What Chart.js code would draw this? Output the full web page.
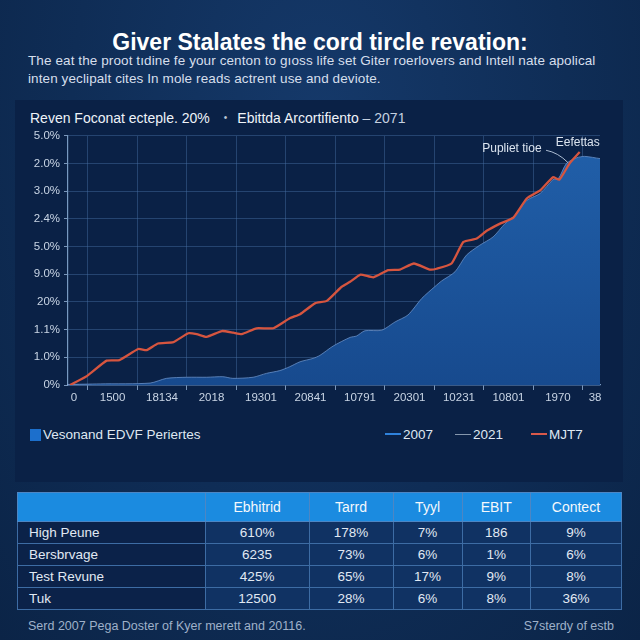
<!DOCTYPE html>
<html><head><meta charset="utf-8">
<script src="https://cdn.jsdelivr.net/npm/chart.js@4.4.0/dist/chart.umd.min.js"></script>
<style>
html,body{margin:0;padding:0;width:640px;height:640px;overflow:hidden;}
body{background:radial-gradient(ellipse at 50% 20%,#15396a 0%,#0f2d56 55%,#0b2447 100%);font-family:"Liberation Sans",Arial,sans-serif;position:relative;}
.abs{position:absolute;}
#title{left:0;width:640px;top:28px;text-align:center;color:#fff;font-weight:bold;font-size:23px;line-height:28px;}
#sub{left:28px;top:52px;width:610px;color:#d6dfec;font-size:13.5px;line-height:18px;white-space:nowrap;letter-spacing:0.1px;}
#panel{left:15px;top:100px;width:608px;height:382px;background:#0a2146;}
#hdr{left:30px;top:110px;color:#eef3f9;font-size:14px;white-space:nowrap;}
#hdr .dot{color:#b9c6d6;margin:0 10px 0 14px;font-size:10px;position:relative;top:-2px;}
#hdr .lt{color:#c5d1e0;}
#chartBox{left:0;top:125px;width:640px;height:290px;}
.leg{top:427px;color:#dfe7f1;font-size:13.5px;white-space:nowrap;line-height:16px;}
.sq{display:inline-block;width:11px;height:12px;background:#1c6fcc;vertical-align:-2px;margin-right:2px;}
.ln{display:inline-block;width:16px;height:2px;vertical-align:4px;margin-right:2px;}
table{position:absolute;left:17px;top:492px;width:605px;border-collapse:collapse;font-size:13.5px;color:#e1e9f3;}
th{background:#1b8be0;color:#f4f8fc;font-weight:normal;font-size:14px;height:28px;padding:0;border:1px solid #4d86c4;text-align:center;}
td{height:21px;padding:0;border:1px solid #3d6ca4;text-align:center;background:#103263;}
td.nm{text-align:left;padding-left:11px;background:#0b2249;}
.foot{top:619px;color:#9fb1c9;font-size:12.5px;white-space:nowrap;}
</style>
</head><body>
<div id="panel" class="abs"></div>
<div id="title" class="abs"></div>
<div id="sub" class="abs"></div>
<div id="hdr" class="abs"></div>
<div id="chartBox" class="abs"><canvas id="c" width="640" height="290"></canvas></div>
<div id="leg0" class="abs leg" style="left:30px"></div>
<div id="leg1" class="abs leg" style="left:385px"></div>
<div id="leg2" class="abs leg" style="left:455px"></div>
<div id="leg3" class="abs leg" style="left:531px"></div>
<table id="tbl"></table>
<div id="footL" class="abs foot" style="left:28px"></div>
<div id="footR" class="abs foot" style="right:26px"></div>
<script>
// ---- texts ----
const titleText = 'Giver Stalates the cord tircle revation:';
const subLines = ['The eat the proot tıdine fe your centon to gıoss life set Giter roerlovers and Intell nate apolical',
                  'inten yeclipalt cites In mole reads actrent use and deviote.'];
const headerLeft = 'Reven Foconat ecteple. 20%';
const headerRight = 'Ebittda Arcortifiento';
const headerRightTail = '– 2071';
const legendNames = ['Vesonand EDVF Periertes', '2007', '2021', 'MJT7'];
const annotationTexts = ['Pupliet tioe', 'Eefettas'];
const footLeft = 'Serd 2007 Pega Doster of Kyer merett and 20116.';
const footRight = 'S7sterdy of estb';

// ---- axis tick labels ----
const yTickLabels = ['0%', '1.0%', '1.1%', '20%', '9.0%', '5.0%', '2.4%', '3.0%', '2.0%', '5.0%'];
const xTickLabels = ['0', '1500', '18134', '2018', '19301', '20841', '10791', '20301', '10231', '10801', '1970', '38'];

// ---- series (x in axis units, y in tick steps) ----
const areaX = [0, 0.65, 1.66, 1.99, 2.40, 2.80, 3.13, 3.33, 3.74, 4.01, 4.28, 4.48, 4.69, 4.95, 5.09, 5.36, 5.70, 5.83, 6.00, 6.34, 6.61, 6.87, 7.15, 7.41, 7.55, 7.82, 8.05, 8.32, 8.59, 8.83, 9.03, 9.27, 9.54, 9.80, 9.91, 10.07, 10.28, 10.44, 10.75];
const areaY = [0.02, 0.04, 0.07, 0.24, 0.28, 0.28, 0.30, 0.24, 0.28, 0.42, 0.52, 0.66, 0.84, 0.96, 1.07, 1.41, 1.72, 1.77, 1.96, 1.98, 2.28, 2.53, 3.13, 3.55, 3.76, 4.09, 4.69, 5.05, 5.35, 5.83, 6.13, 6.67, 6.92, 7.42, 7.46, 8.00, 8.21, 8.26, 8.18];
const lineX = [0.04, 0.38, 0.78, 1.04, 1.42, 1.59, 1.82, 2.13, 2.43, 2.60, 2.80, 3.11, 3.34, 3.51, 3.81, 4.15, 4.48, 4.69, 4.99, 5.23, 5.53, 5.70, 5.91, 6.17, 6.47, 6.71, 6.99, 7.31, 7.45, 7.75, 7.99, 8.26, 8.46, 8.73, 9.00, 9.27, 9.54, 9.80, 9.93, 10.14, 10.34];
const lineY = [0, 0.32, 0.88, 0.90, 1.30, 1.26, 1.50, 1.55, 1.87, 1.84, 1.74, 1.95, 1.89, 1.84, 2.05, 2.05, 2.41, 2.56, 2.95, 3.04, 3.55, 3.73, 3.99, 3.89, 4.15, 4.17, 4.39, 4.17, 4.20, 4.39, 5.17, 5.29, 5.57, 5.83, 6.05, 6.74, 7.03, 7.51, 7.42, 8.02, 8.42];

// ---- table ----
const tableHead = ['', 'Ebhitrid', 'Tarrd', 'Tyyl', 'EBIT', 'Contect'];
const rowNames = ['High Peune', 'Bersbrvage', 'Test Revune', 'Tuk'];
const colEbhitrid = ['610%', '6235', '425%', '12500'];
const colTarrd = ['178%', '73%', '65%', '28%'];
const colTyyl = ['7%', '6%', '17%', '6%'];
const colEBIT = ['186', '1%', '9%', '8%'];
const colContect = ['9%', '6%', '8%', '36%'];

// ---- build html texts ----
document.getElementById('title').textContent = titleText;
document.getElementById('sub').innerHTML = subLines.map(s => s.replace(/&/g,'&amp;')).join('<br>');
document.getElementById('hdr').innerHTML = headerLeft + '<span class="dot">•</span>' + headerRight + ' <span class="lt">' + headerRightTail + '</span>';
document.getElementById('leg0').innerHTML = '<span class="sq"></span>' + legendNames[0];
document.getElementById('leg1').innerHTML = '<span class="ln" style="background:#2f82dc"></span>' + legendNames[1];
document.getElementById('leg2').innerHTML = '<span class="ln" style="background:#8597ad;height:1.5px"></span>' + legendNames[2];
document.getElementById('leg3').innerHTML = '<span class="ln" style="background:#d9594a"></span>' + legendNames[3];
document.getElementById('footL').textContent = footLeft;
document.getElementById('footR').textContent = footRight;
const cols = [colEbhitrid, colTarrd, colTyyl, colEBIT, colContect];
const colW = [189, 104, 84, 69, 68, 91];
let html = '<tr>' + tableHead.map((h, i) => '<th style="width:' + colW[i] + 'px">' + h + '</th>').join('') + '</tr>';
rowNames.forEach((r, ri) => {
  html += '<tr><td class="nm">' + r + '</td>' + cols.map(c => '<td>' + c[ri] + '</td>').join('') + '</tr>';
});
document.getElementById('tbl').innerHTML = html;

// ---- chart ----
const xMax = 10.75;
const gridVals = [];
for (let k = 0; k <= 10; k++) gridVals.push(0.4 + k);
const labelVals = [0.12];
for (let k = 0; k < 10; k++) labelVals.push(0.9 + k);
labelVals.push(10.65);
const gridSet = new Set(gridVals.map(v => v.toFixed(2)));
const labelMap = {};
labelVals.forEach((v, i) => labelMap[v.toFixed(2)] = xTickLabels[i]);

const annot = {
  id: 'annot',
  afterDatasetsDraw(chart) {
    const {ctx, scales: {x, y}} = chart;
    ctx.save();
    ctx.font = '12px "Liberation Sans", Arial, sans-serif';
    ctx.fillStyle = '#dbe4ef';
    ctx.textAlign = 'center';
    ctx.textBaseline = 'middle';
    ctx.fillText(annotationTexts[0], x.getPixelForValue(8.97), y.getPixelForValue(8.55));
    ctx.fillText(annotationTexts[1], x.getPixelForValue(10.30), y.getPixelForValue(8.77));
    ctx.strokeStyle = 'rgba(200,215,235,0.85)';
    ctx.lineWidth = 1;
    ctx.beginPath();
    ctx.moveTo(x.getPixelForValue(9.66), y.getPixelForValue(8.48));
    ctx.quadraticCurveTo(x.getPixelForValue(9.9), y.getPixelForValue(8.4), x.getPixelForValue(10.10), y.getPixelForValue(8.04));
    ctx.stroke();
    ctx.restore();
  }
};

new Chart(document.getElementById('c'), {
  type: 'line',
  data: {
    datasets: [
      {
        label: legendNames[3],
        data: lineX.map((v, i) => ({x: v, y: lineY[i]})),
        borderColor: '#d6553f',
        borderWidth: 2.3,
        pointRadius: 0,
        tension: 0.15,
        fill: false,
        order: 0
      },
      {
        label: legendNames[0],
        data: areaX.map((v, i) => ({x: v, y: areaY[i]})),
        borderColor: 'rgba(110,150,205,0.75)',
        borderWidth: 1,
        pointRadius: 0,
        tension: 0.25,
        fill: 'origin',
        backgroundColor: (ctx) => {
          const ca = ctx.chart.chartArea;
          if (!ca) return '#1c539b';
          const g = ctx.chart.ctx.createLinearGradient(0, ca.top, 0, ca.bottom);
          g.addColorStop(0, '#2160aa');
          g.addColorStop(1, '#174a8e');
          return g;
        },
        order: 1
      }
    ]
  },
  options: {
    responsive: false,
    animation: false,
    layout: {padding: {left: 20, right: 40, top: 10, bottom: 8}},
    plugins: {legend: {display: false}, tooltip: {enabled: false}},
    scales: {
      x: {
        type: 'linear', min: 0, max: xMax,
        afterBuildTicks: (s) => {
          s.ticks = gridVals.concat(labelVals).sort((a, b) => a - b).map(v => ({value: v}));
        },
        afterFit: (s) => { s.height = 22; },
        ticks: {
          autoSkip: false, maxRotation: 0, padding: 1,
          color: '#c9d5e5',
          font: {size: 11.5, family: '"Liberation Sans", Arial, sans-serif'},
          callback: (v) => labelMap[Number(v).toFixed(2)] || ''
        },
        grid: {
          color: (c) => (c.tick && gridSet.has(c.tick.value.toFixed(2))) ? 'rgba(70,110,165,0.45)' : 'rgba(0,0,0,0)',
          tickColor: (c) => (c.tick && gridSet.has(c.tick.value.toFixed(2))) ? 'rgba(150,180,215,0.8)' : 'rgba(0,0,0,0)',
          tickLength: 5
        },
        border: {color: 'rgba(140,175,215,0.85)', width: 1.2}
      },
      y: {
        min: 0, max: 9,
        afterFit: (s) => { s.width = 48; },
        ticks: {
          stepSize: 1, padding: 4,
          color: '#c9d5e5',
          font: {size: 11.5, family: '"Liberation Sans", Arial, sans-serif'},
          callback: (v) => yTickLabels[v]
        },
        grid: {color: 'rgba(70,110,165,0.45)', tickColor: 'rgba(150,180,215,0.8)', tickLength: 4},
        border: {color: 'rgba(140,175,215,0.85)', width: 1.2}
      }
    }
  },
  plugins: [annot]
});
</script>
</body></html>
